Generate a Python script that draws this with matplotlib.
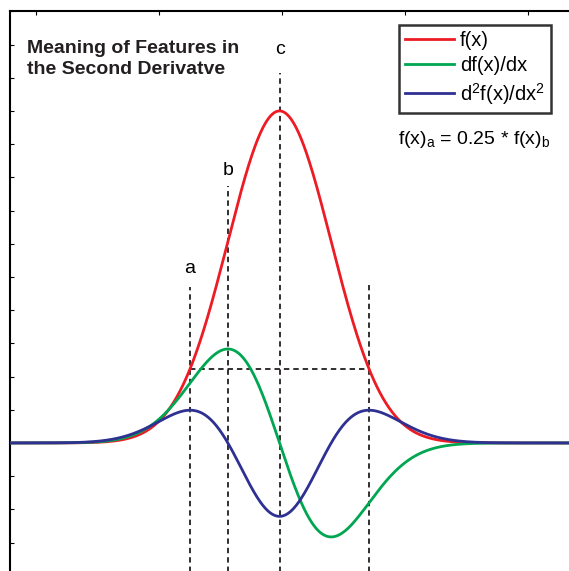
import numpy as np
import matplotlib.pyplot as plt

plt.rcParams['font.family'] = ['Liberation Sans', 'DejaVu Sans']
plt.rcParams['mathtext.fontset'] = 'custom'
plt.rcParams['mathtext.rm'] = 'Liberation Sans'
plt.rcParams['mathtext.it'] = 'Liberation Sans'

# Gaussian peak and the scaling of its derivatives
peak_height = 10.0
center = 1.98
width = 0.42
scale_d1 = 0.196
scale_d2 = 0.039

# feature markers: name, position in widths from the centre, top of the dashed line, label height
marker_names = ['a', 'b', 'c', '']
marker_offsets = [-np.sqrt(3), -1.0, 0.0, np.sqrt(3)]
marker_tops = [4.7, 7.75, 11.15, 4.75]
label_heights = [5.25, 8.2, 11.85, 0.0]

x = np.linspace(-0.3, 4.7, 1200)
u = (x - center) / width
f = peak_height * np.exp(-u**2 / 2)
df = scale_d1 * (-u / width) * f
d2f = scale_d2 * ((u**2 - 1) / width**2) * f

red = '#ED1C24'
green = '#00A651'
blue = '#2E3192'

fig = plt.figure(figsize=(5.69, 5.71), dpi=100)
# axes run past the right and bottom edges of the figure
ax = fig.add_axes([10 / 569, -29 / 571, 590 / 569, 589 / 571])
ax.set_xlim(-0.211, 4.585)
ax.set_ylim(-4.73, 13.01)

ax.plot(x, f, color=red, lw=2.0, label='f(x)', zorder=3)
ax.plot(x, df, color=green, lw=2.0, label='df(x)/dx', zorder=4)
ax.plot(x, d2f, color=blue, lw=2.0, label='d$^2$f(x)/dx$^2$', zorder=5)

dash = dict(color='#231F20', lw=1.3, ls=(0, (3.0, 2.2)), zorder=2)
xa = center + marker_offsets[0] * width
xr = center + marker_offsets[3] * width
fa = peak_height * np.exp(-marker_offsets[0]**2 / 2)
for name, off, top, lab in zip(marker_names, marker_offsets, marker_tops, label_heights):
    xm = center + off * width
    ax.plot([xm, xm], [-6, top], **dash)
    if name:
        ax.text(xm, lab, name, ha='center', va='center', fontsize=14)
ax.plot([xa, xr], [fa, fa], **dash)

ax.text(-0.075, 11.57, 'Meaning of Features in\nthe Second Derivatve', fontsize=14,
        fontweight='bold', ha='left', va='center', linespacing=1.3, color='#231F20')
ax.text(3.56, 9.13, 'f(x)$_a$ = 0.25 * f(x)$_b$', fontsize=14, ha='center', va='center')

leg = ax.legend(loc='upper left', bbox_to_anchor=(0.660, 0.977), fontsize=14.5,
                frameon=True, fancybox=False, edgecolor='black', handlelength=2.4,
                handletextpad=0.3, borderpad=0.3, labelspacing=0.3, borderaxespad=0)
leg.get_frame().set_linewidth(1.8)

ax.set_xticks(np.arange(0, 5))
ax.set_yticks(np.arange(-4, 14))
ax.tick_params(direction='in', length=3, width=0.8, top=True, bottom=False,
               left=True, right=False, labelleft=False, labelbottom=False)
for side in ['left', 'top']:
    ax.spines[side].set_linewidth(1.5)

fig.savefig('out.png', dpi=100)
